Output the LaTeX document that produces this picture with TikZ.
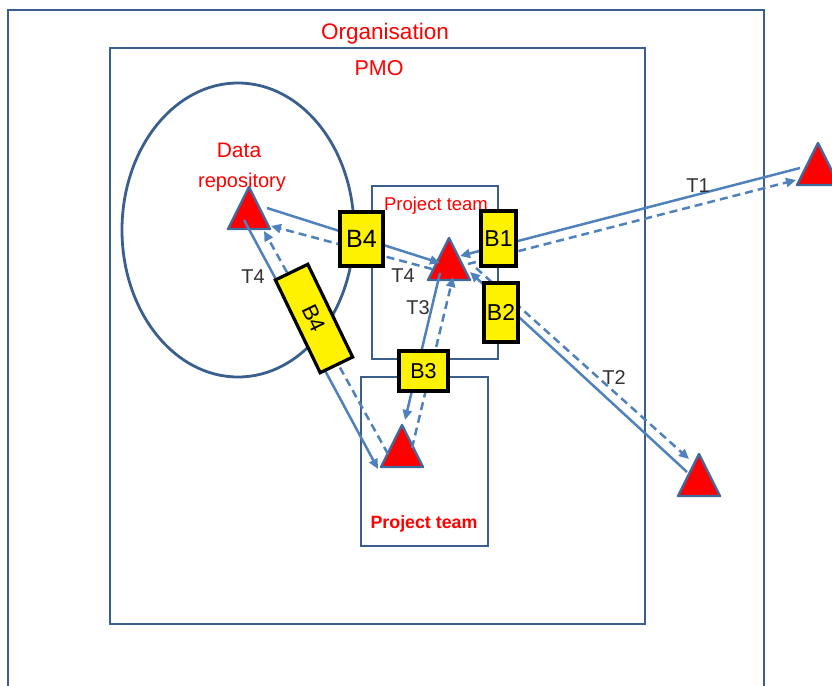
\documentclass[tikz,border=0pt]{standalone}
\usepackage{fontspec}
\setmainfont{Liberation Sans}
\usetikzlibrary{arrows.meta}
\definecolor{boxblue}{HTML}{3A5F8E}
\definecolor{linkblue}{HTML}{4F81BD}
\definecolor{tred}{HTML}{FF0000}
\tikzset{
  frame/.style={draw=boxblue, line width=2.8pt},
  conn/.style={draw=linkblue, line width=2.5pt, -{Triangle[length=10pt,width=9pt]}},
  dconn/.style={conn, dash pattern=on 8pt off 5pt},
  tri/.style={fill=red, draw=boxblue!70!linkblue, line width=2.4pt, line join=round},
  ybox/.style={draw=black, line width=3.2pt, fill=yellow, inner sep=0pt, font=\fontsize{23}{27}\selectfont},
  rlabel/.style={text=tred, inner sep=0pt, anchor=base},
  tlabel/.style={text=black!80, inner sep=0pt, font=\fontsize{20}{24}\selectfont},
}
\newcommand{\redtri}[1]{\draw[tri] ([shift={(-21,21)}]#1) -- ([shift={(21,21)}]#1) -- ([shift={(0,-21)}]#1) -- cycle;}
\begin{document}
\begin{tikzpicture}[x=1pt,y=-1pt]
\useasboundingbox (0,0) rectangle (832,685);
% frames
\draw[frame] (8,686) -- (8,10) -- (764,10) -- (764,686);
\draw[frame] (110,48) rectangle (645,624);
\draw[frame] (238,230) ellipse [x radius=116pt, y radius=147pt];
\draw[frame] (372,186) rectangle (498,359);
\draw[frame] (361,377) rectangle (488,546);
% texts
\node[rlabel, font=\fontsize{22.5}{26}\selectfont] (org) at (385,40) {Organisation};
\node[rlabel, font=\fontsize{21.5}{26}\selectfont] (pmo) at (379,75) {PMO};
\node[rlabel, font=\fontsize{21}{24}\selectfont] (ldata) at (239,157) {Data};
\node[rlabel, font=\fontsize{20}{24}\selectfont] (lrepo) at (242,187) {repository};
\node[rlabel, font=\fontsize{18.5}{22}\selectfont] (pt1) at (436,210) {Project team};
\node[rlabel, font=\bfseries\fontsize{17.8}{22}\selectfont] (pt2) at (424,528) {Project team};
% triangle centres
\coordinate (dr) at (249,208);
\coordinate (ct) at (449,259);
\coordinate (lt) at (402,446);
\coordinate (r1) at (818,164);
\coordinate (r2) at (699,475);
\redtri{dr}
\redtri{ct}
\redtri{lt}
\redtri{r1}
\redtri{r2}
% connector end points
\coordinate (a1) at (267,208); \coordinate (a2) at (440,263);
\coordinate (a3) at (432,269); \coordinate (a4) at (271,226);
\coordinate (b1) at (244,220); \coordinate (b2) at (378,469);
\coordinate (b3) at (388,454); \coordinate (b4) at (264,231);
\coordinate (c1) at (440,273); \coordinate (c2) at (405,420);
\coordinate (c3) at (412,448); \coordinate (c4) at (453,277);
\coordinate (d1) at (800,168); \coordinate (d2) at (460,256);
\coordinate (d3) at (468,264); \coordinate (d4) at (796,180);
\coordinate (e1) at (687,472); \coordinate (e2) at (470,272);
\coordinate (e3) at (476,268); \coordinate (e4) at (689,459);
% connectors
\draw[conn] (a1) -- (a2);
\draw[dconn] (a3) -- (a4);
\draw[conn] (b1) -- (b2);
\draw[dconn] (b3) -- (b4);
\draw[conn] (c1) -- (c2);
\draw[dconn] (c3) -- (c4);
\draw[conn] (d1) -- (d2);
\draw[dconn] (d3) -- (d4);
\draw[conn] (e1) -- (e2);
\draw[dconn] (e3) -- (e4);
% connector labels
\node[tlabel] (t4a) at (253,277) {T4};
\node[tlabel] (t4b) at (403,276) {T4};
\node[tlabel] (t3) at (418,308) {T3};
\node[tlabel] (t1) at (698,186) {T1};
\node[tlabel] (t2) at (614,378) {T2};
% yellow boxes
\node[ybox, minimum width=43pt, minimum height=54pt, font=\fontsize{25}{29}\selectfont] (b4a) at (361.5,239) {B4};
\node[ybox, minimum width=35pt, minimum height=55pt] (bb1) at (498.5,238.5) {B1};
\node[ybox, minimum width=34pt, minimum height=59pt] (bb2) at (501,312.5) {B2};
\node[ybox, minimum width=49pt, minimum height=40pt, font=\fontsize{21.5}{25}\selectfont] (bb3) at (423.5,371) {B3};
\node[ybox, minimum width=103pt, minimum height=36pt, rotate=-64.2, font=\fontsize{22}{26}\selectfont] (b4b) at (314,318.5) {B4};
\end{tikzpicture}
\end{document}
